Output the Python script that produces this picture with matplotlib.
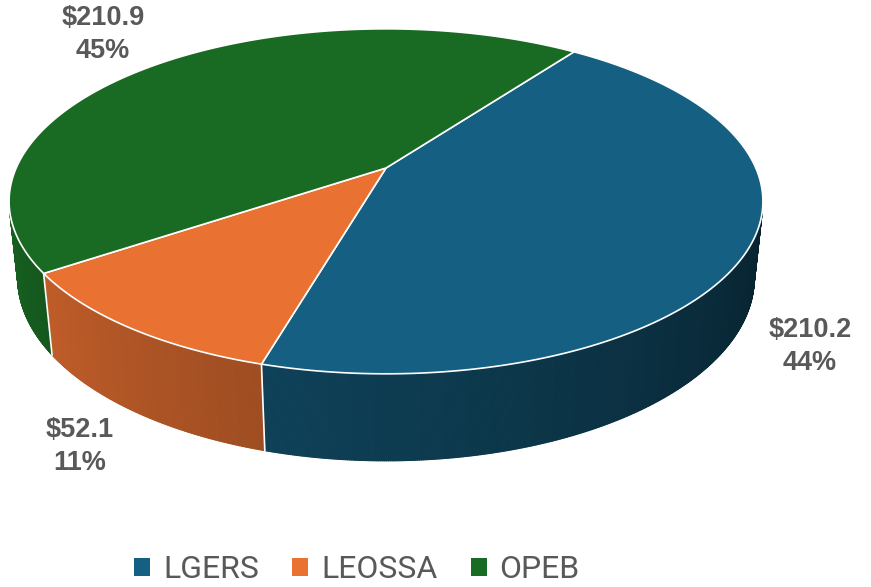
import numpy as np
import matplotlib.pyplot as plt
from matplotlib.patches import Polygon, Patch
from matplotlib.collections import PolyCollection

# data
labels = ["LGERS", "LEOSSA", "OPEB"]
values = [210.2, 52.1, 210.9]
colors = ["#156082", "#E97132", "#196B24"]

# layout (pixels)
label_pos = [(810, 346), (80, 447), (103, 35)]
start_deg = -54.0          # LGERS starts at upper right, slices run clockwise

# simple perspective camera for the 3D look
elev = np.radians(26.68)
dist = 4.624
thick = 0.2324
focal = 1710.0
cx, cy = 386.0, 168.0


def project(x, y, z):
    s, c = np.sin(elev), np.cos(elev)
    vy = y - dist * s
    vz = z - dist * c
    yc = vy * c - vz * s
    zc = -(vy * s + vz * c)
    return cx + focal * x / zc, cy - focal * yc / zc


def rim(theta, y):
    px, py = project(np.cos(theta), y, np.sin(theta))
    return np.column_stack([px, py])


def shade(col, theta_deg):
    f = 0.35 + 0.55 * (theta_deg - 12) / 156
    f = min(max(f, 0.3), 0.95)
    rgb = np.array(plt.matplotlib.colors.to_rgb(col))
    return tuple(rgb * f)


fig = plt.figure(figsize=(8.71, 5.87), dpi=100)
ax = fig.add_axes([0, 0, 1, 1])
ax.set_xlim(0, 871)
ax.set_ylim(587, 0)
ax.axis("off")

total = sum(values)
spans = [v / total * 360 for v in values]
bounds = start_deg + np.concatenate([[0], np.cumsum(spans)])

# visible part of the outer wall
vis = np.degrees(np.arcsin(1 / (dist * np.cos(elev))))
vis_lo, vis_hi = vis, 180 - vis

# side walls, drawn as thin shaded strips
for i, col in enumerate(colors):
    a0, a1 = bounds[i], bounds[i + 1]
    for off in (-360, 0, 360):
        lo = max(a0 + off, vis_lo)
        hi = min(a1 + off, vis_hi)
        if hi <= lo:
            continue
        steps = np.linspace(lo, hi, int((hi - lo) * 4) + 2)
        polys, fcs = [], []
        for t0, t1 in zip(steps[:-1], steps[1:]):
            th = np.radians([t0, t1])
            polys.append(np.vstack([rim(th, 0), rim(th[::-1], -thick)]))
            fcs.append(shade(col, (t0 + t1) / 2))
        ax.add_collection(PolyCollection(polys, facecolors=fcs, edgecolors=fcs,
                                         linewidths=0.8, zorder=1))

# white seams on the wall at slice borders
for b in bounds:
    bb = (b + 360) % 360
    if vis_lo < bb < vis_hi:
        th = np.radians([bb])
        p = np.vstack([rim(th, 0), rim(th, -thick)])
        ax.plot(p[:, 0], p[:, 1], color="white", lw=1.2, zorder=2)

# top faces
for i, col in enumerate(colors):
    th = np.radians(np.linspace(bounds[i], bounds[i + 1], 200))
    pts = np.vstack([[project(0, 0, 0)], rim(th, 0)])
    ax.add_patch(Polygon(pts, closed=True, facecolor=col, edgecolor="white",
                         lw=1.2, zorder=3, joinstyle="round"))

# data labels
for i, v in enumerate(values):
    pct = round(v / total * 100)
    x, y = label_pos[i]
    ax.text(x, y, "${:.1f}\n{}%".format(v, pct), ha="center", va="center",
            fontsize=19.5, fontweight="bold", color="#595959",
            family=["Liberation Sans", "DejaVu Sans"], linespacing=1.35)

# legend
handles = [Patch(facecolor=c, edgecolor="none") for c in colors]
ax.legend(handles, labels, loc="center", bbox_to_anchor=(357, 570),
          bbox_transform=ax.transData, ncol=3, frameon=False,
          handlelength=0.5, handleheight=0.5, handletextpad=0.4,
          columnspacing=1.05, labelcolor="#595959",
          prop={"family": ["Roboto", "Liberation Sans"], "size": 23})

fig.savefig("out.png", dpi=100)
